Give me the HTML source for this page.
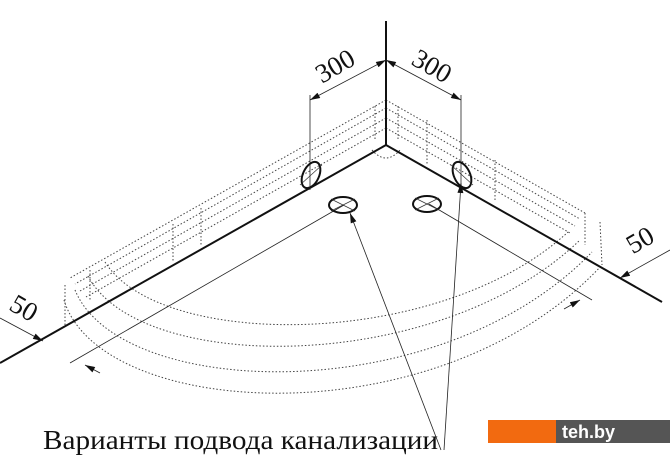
<!DOCTYPE html>
<html><head><meta charset="utf-8"><style>
html,body{margin:0;padding:0;background:#fff;width:670px;height:471px;overflow:hidden}
svg{display:block}
</style></head><body>
<svg width="670" height="471" viewBox="0 0 670 471" xmlns="http://www.w3.org/2000/svg">
<defs>
<marker id="a" viewBox="0 0 10 6" refX="10" refY="3" markerWidth="11" markerHeight="6" orient="auto-start-reverse" markerUnits="userSpaceOnUse"><path d="M0,0 L10,3 L0,6 z" fill="#111"/></marker>
</defs>
<g fill="none" stroke="#444" stroke-width="1" stroke-dasharray="1.5 2">
<path d="M386,100 L70,278"/><path d="M386,108 L75,284"/><path d="M386,118 L80,291"/><path d="M386,128 L86,297"/>
<path d="M386,100 L585,213"/><path d="M386,108 L580,219"/><path d="M386,118 L575,226"/><path d="M386,128 L570,233"/>
<path d="M375,106 L375,140"/><path d="M398,106 L398,140"/><path d="M201,208 L201,246"/><path d="M173,224 L173,262"/><path d="M427,120 L427,165"/><path d="M495,160 L495,200"/>
<path d="M90,270 L90,300"/><path d="M65,285 L65,325"/><path d="M585,213 L585,245"/><path d="M600,222 L602,265"/>
<path d="M372,150 Q386,166 400,150"/>
<path d="M64,300 C100,420 440,440 602,265"/>
<path d="M75,290 C120,400 440,410 592,252"/>
<path d="M88,276 C140,375 440,375 580,240"/>
<path d="M105,262 C160,350 440,350 568,232"/>
</g>
<g stroke="#111" fill="none">
<path d="M386,21 L386,145" stroke-width="2"/>
<path d="M386,145 L0,363" stroke-width="2"/>
<path d="M386,145 L662,302" stroke-width="2"/>
</g>
<g stroke="#222" stroke-width="0.8" fill="none">
<path d="M310,95 L310,190"/><path d="M461,95 L461,190"/>
<path d="M310,100 L386,60" marker-start="url(#a)" marker-end="url(#a)"/>
<path d="M386,60 L461,100" marker-start="url(#a)" marker-end="url(#a)"/>
<path d="M344,205 L70,363"/>
<path d="M0,318 L43,341" marker-end="url(#a)"/>
<path d="M100,373 L85,365" marker-end="url(#a)"/>
<path d="M429,204 L592,300"/>
<path d="M670,250 L620,278" marker-end="url(#a)"/>
<path d="M564,309 L580,300" marker-end="url(#a)"/>
<path d="M441,450 L350,213" marker-end="url(#a)"/>
<path d="M444,450 L461,183" marker-end="url(#a)"/>
</g>
<g stroke="#111" stroke-width="2" fill="none">
<ellipse cx="311" cy="175" rx="8" ry="14" transform="rotate(25 311 175)"/>
<ellipse cx="462" cy="175" rx="8" ry="14" transform="rotate(-25 462 175)"/>
<ellipse cx="343" cy="205" rx="14" ry="8"/>
<ellipse cx="427" cy="204" rx="14" ry="8"/>
</g>
<g stroke="#333" stroke-width="0.7">
<path d="M300,185 L322,165"/><path d="M451,165 L473,185"/>
<path d="M331,199 L355,211"/><path d="M331,211 L355,199"/>
<path d="M415,198 L439,210"/><path d="M415,210 L439,198"/>
</g>
<g font-family="Liberation Serif, serif" font-size="27" fill="#111">
<text x="335" y="75" text-anchor="middle" transform="rotate(-30 335 66)">300</text>
<text x="432" y="75" text-anchor="middle" transform="rotate(30 432 66)">300</text>
<text x="24" y="317" text-anchor="middle" transform="rotate(30 24 308)">50</text>
<text x="640" y="249" text-anchor="middle" transform="rotate(-30 640 240)">50</text>
<text x="43" y="449" font-size="27" textLength="395" lengthAdjust="spacingAndGlyphs">Варианты подвода канализации</text>
</g>
<rect x="488" y="420" width="68" height="23" fill="#f26a10"/>
<rect x="556" y="420" width="114" height="23" fill="#555"/>
<text x="562" y="438" font-family="Liberation Sans, sans-serif" font-size="18" font-weight="bold" fill="#fff">teh.by</text>
</svg>
</body></html>
